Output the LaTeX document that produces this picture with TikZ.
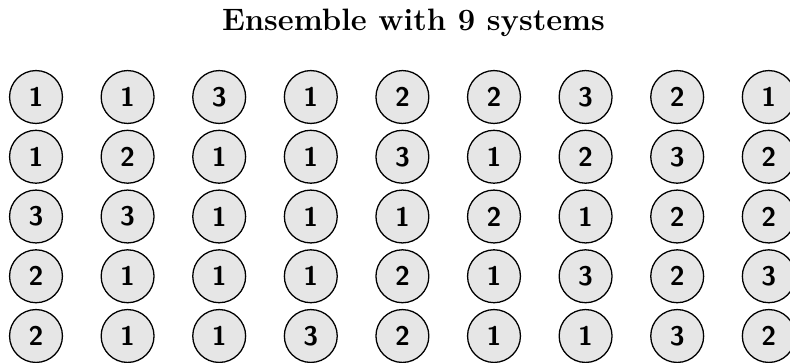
\documentclass[tikz,border=0pt]{standalone}
\usepackage{tikz}
\usetikzlibrary{positioning, calc}
\definecolor{SystemFill}{RGB}{230, 230, 230}

\begin{document}
\begin{tikzpicture}[x=0.4651pt, y=-0.4651pt,
    sysnode/.style={circle, draw=black, line width=0.6pt, fill=SystemFill,
      minimum size=24.6pt, inner sep=0pt,
      font=\fontsize{12.5}{15}\selectfont\sffamily\bfseries}]
    \useasboundingbox (0,0) rectangle (790,362);
    \node[anchor=base, font=\Large\bfseries] (title) at (413.5,30) {Ensemble with 9 systems};
    % one row of the ensemble per entry
    \foreach \row [count=\r] in {{1,1,3,1,2,2,3,2,1},{1,2,1,1,3,1,2,3,2},{3,3,1,1,1,2,1,2,2},{2,1,1,1,2,1,3,2,3},{2,1,1,3,2,1,1,3,2}} {
      \foreach \val [count=\c] in \row {
        \node[sysnode] (sys-\r-\c) at ({36+91.6*(\c-1)},{97+59.75*(\r-1)}) {\val};
      }
    }
  \end{tikzpicture}
\end{document}
